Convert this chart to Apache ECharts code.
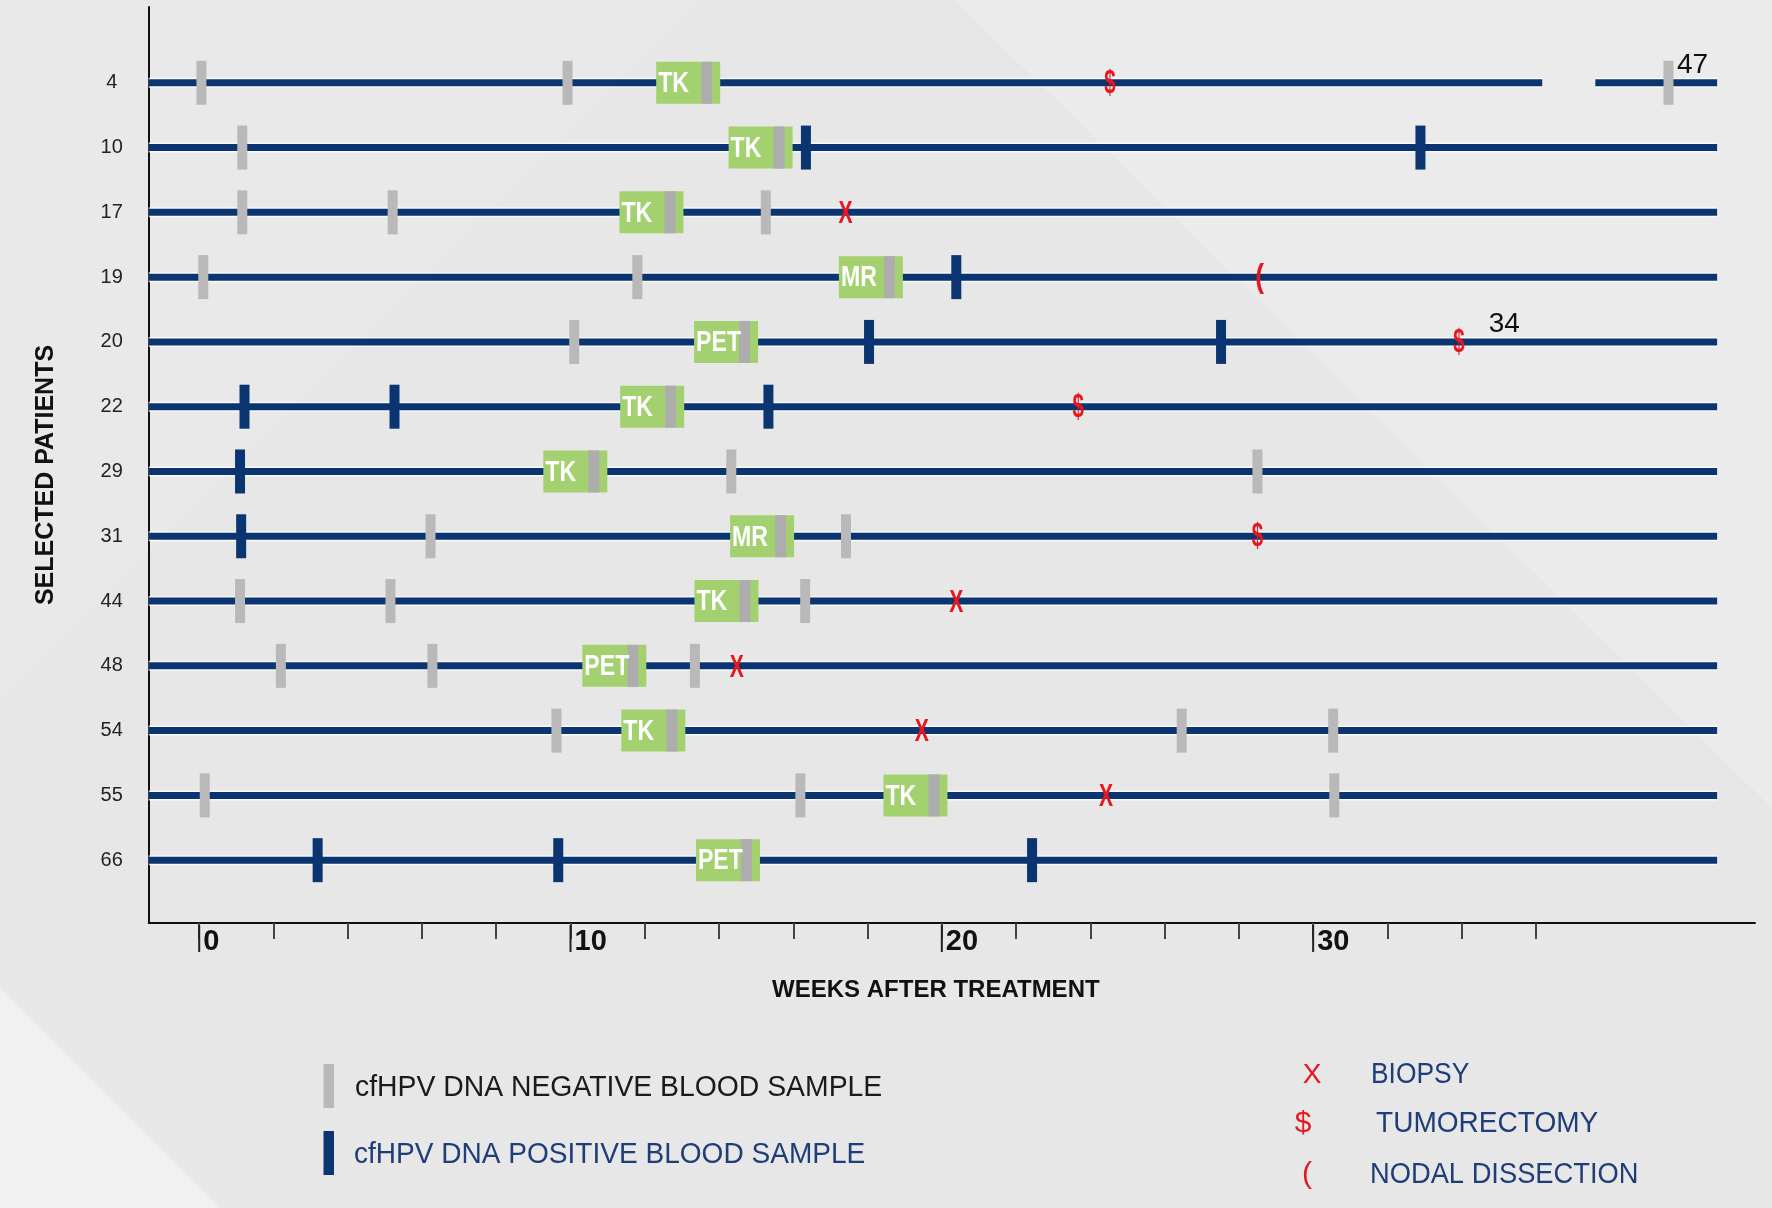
<!DOCTYPE html>
<html>
<head>
<meta charset="utf-8">
<script src="https://cdn.jsdelivr.net/npm/echarts@6/dist/echarts.min.js"></script>
<style>
html,body{margin:0;padding:0;background:#e7e7e7;}
#c{width:1772px;height:1208px;}
</style>
</head>
<body>
<div id="c"></div>
<script>
// ---------------- DATA ----------------
const patients = ['4','10','17','19','20','22','29','31','44','48','54','55','66'];
const weekTicks = [0,2,4,6,8,10,12,14,16,18,20,22,24,26,28,30,32,34,36];
const weekLabels = [0,10,20,30];
const followUpEnd = 40.88;
// [row, breakStart, breakEnd] : axis break on the follow-up line
const lineBreaks = [[0, 36.17, 37.6]];
// [week, row]
const negativeSamples = [
  [0.06,0],[9.92,0],[39.57,0],
  [1.16,1],
  [1.16,2],[5.21,2],[15.26,2],
  [0.11,3],[11.8,3],
  [10.1,4],
  [14.33,6],[28.5,6],
  [6.23,7],[17.42,7],
  [1.1,8],[5.15,8],[16.32,8],
  [2.2,9],[6.28,9],[13.35,9],
  [9.62,10],[26.46,10],[30.54,10],
  [0.15,11],[16.19,11],[30.57,11]
];
const positiveSamples = [
  [16.34,1],[32.89,1],
  [20.39,3],
  [18.04,4],[27.52,4],
  [1.22,5],[5.26,5],[15.33,5],
  [1.1,6],
  [1.13,7],
  [3.19,12],[9.67,12],[22.43,12]
];
// [week, row, modality]
const imaging = [
  [13.17,0,'TK'],[15.12,1,'TK'],[12.18,2,'TK'],[18.09,3,'MR'],[14.19,4,'PET'],
  [12.2,5,'TK'],[10.13,6,'TK'],[15.16,7,'MR'],[14.2,8,'TK'],[11.18,9,'PET'],
  [12.23,10,'TK'],[19.29,11,'TK'],[14.24,12,'PET']
];
const biopsy = [[17.41,2],[20.39,8],[14.48,9],[19.46,10],[24.42,11]];
const tumorectomy = [[24.53,0],[33.93,4],[23.67,5],[28.5,7]];
const nodalDissection = [[28.56,3]];
// [week, row, text]
const annotations = [[39.8,0,'47'],[34.73,4,'34']];

const legendSamples = ['cfHPV DNA NEGATIVE BLOOD SAMPLE','cfHPV DNA POSITIVE BLOOD SAMPLE'];
const legendEvents = [['X','BIOPSY'],['$','TUMORECTOMY'],['(','NODAL DISSECTION']];

// ---------------- STYLE ----------------
const NAVY = '#0b3571';
const GRAY = '#b9b9b9';
const RED = '#e8161d';
const GREEN = '#a3d170';
const SANS = '"Liberation Sans",Arial,sans-serif';
const X_MIN = -1.36, X_MAX = 41.9;
const Y_MIN = -1.17, Y_MAX = 12.97;

// build line segments [start, end, row]
const segments = [];
patients.forEach((p, row) => {
  let start = X_MIN;
  lineBreaks.filter(b => b[0] === row).forEach(b => {
    segments.push([start, b[1], row]);
    start = b[2];
  });
  segments.push([start, followUpEnd, row]);
});

const chart = echarts.init(document.getElementById('c'), null, {renderer:'canvas'});

function markRender(color) {
  return function (params, api) {
    const p = api.coord([api.value(0), api.value(1)]);
    return {type:'rect', shape:{x:p[0]-5, y:p[1]-22, width:10, height:44}, style:{fill:color}};
  };
}
function glyphRender(ch, size, weight, sx, dy) {
  return function (params, api) {
    const p = api.coord([api.value(0), api.value(1)]);
    return {type:'text', x:p[0], y:p[1]+dy, scaleX:sx, style:{text:ch, fill:RED, fontSize:size, fontWeight:weight,
      fontFamily:SANS, align:'center', verticalAlign:'middle'}};
  };
}
function legendText(x, y, text, color, sx) {
  return {type:'text', z:10, x:x, y:y, scaleX:sx, style:{text:text, fill:color, fontSize:30, fontFamily:SANS, verticalAlign:'middle'}};
}

const option = {
  backgroundColor: '#e7e7e7',
  animation: false,
  grid: {left:148.7, right:17, top:7, bottom:285, containLabel:false},
  xAxis: {
    type:'value', min:X_MIN, max:X_MAX,
    axisLine:{show:true, onZero:false, lineStyle:{color:'#111', width:2}},
    axisTick:{show:true, customValues:weekTicks, length:16, lineStyle:{color:'#444', width:2}},
    axisLabel:{show:true, customValues:weekLabels, margin:4, align:'left', padding:[0,0,0,4],
      fontSize:29, fontWeight:'bold', color:'#111', fontFamily:SANS},
    splitLine:{show:false},
    name:'WEEKS AFTER TREATMENT', nameLocation:'middle', nameGap:55,
    nameTextStyle:{fontSize:24, fontWeight:'bold', color:'#111', fontFamily:SANS, padding:[0,32,0,0]}
  },
  yAxis: {
    type:'value', inverse:true, min:Y_MIN, max:Y_MAX,
    axisLine:{show:true, onZero:false, lineStyle:{color:'#111', width:2}},
    axisTick:{show:false},
    splitLine:{show:false},
    axisLabel:{show:true, customValues:patients.map((p,i)=>i), formatter:v => patients[v],
      align:'center', margin:37, fontSize:20, color:'#222', fontFamily:SANS},
    name:'SELECTED PATIENTS', nameLocation:'middle', nameGap:90,
    nameTextStyle:{fontSize:25, fontWeight:'bold', color:'#111', fontFamily:SANS, padding:[0,20,0,0]}
  },
  graphic: [
    {type:'polygon', z:-10, silent:true, shape:{points:[[955,0],[1772,0],[1772,808]]}, style:{fill:'#ebebeb'}},
    {type:'polygon', z:-10, silent:true, shape:{points:[[0,0],[700,0],[0,700]]}, style:{fill:'#e9e9e9'}},
    {type:'polygon', z:-9, silent:true, shape:{points:[[0,988],[220,1208],[0,1208]]}, style:{fill:'#f1f1f1'}},
    {type:'rect', z:10, shape:{x:323.5, y:1064, width:10.5, height:44}, style:{fill:GRAY}},
    {type:'rect', z:10, shape:{x:323.5, y:1131, width:10.5, height:44}, style:{fill:NAVY}},
    legendText(355, 1088, legendSamples[0], '#1a1a1a', 0.945),
    legendText(354, 1155, legendSamples[1], '#1f3d78', 0.935),
    {type:'text', z:10, x:1312, y:1075, style:{text:legendEvents[0][0], fill:RED, fontSize:28, fontFamily:SANS, align:'center', verticalAlign:'middle'}},
    {type:'text', z:10, x:1303, y:1124, style:{text:legendEvents[1][0], fill:RED, fontSize:30, fontFamily:SANS, align:'center', verticalAlign:'middle'}},
    {type:'text', z:10, x:1307, y:1175, style:{text:legendEvents[2][0], fill:RED, fontSize:30, fontFamily:SANS, align:'center', verticalAlign:'middle'}},
    legendText(1371, 1075, legendEvents[0][1], '#1f3d78', 0.88),
    legendText(1376, 1124, legendEvents[1][1], '#1f3d78', 0.935),
    legendText(1370, 1175, legendEvents[2][1], '#1f3d78', 0.91)
  ],
  series: [
    {
      type:'custom', name:'follow-up', data:segments, encode:{x:[0,1], y:2}, z:2,
      renderItem:function(params, api){
        const a = api.coord([api.value(0), api.value(2)]);
        const b = api.coord([api.value(1), api.value(2)]);
        return {type:'group', children:[
          {type:'line', shape:{x1:a[0], y1:a[1], x2:b[0], y2:b[1]}, style:{stroke:'rgba(255,255,255,0.75)', lineWidth:10}},
          {type:'line', shape:{x1:a[0], y1:a[1], x2:b[0], y2:b[1]}, style:{stroke:NAVY, lineWidth:7}}
        ]};
      }
    },
    {
      type:'custom', name:'major ticks', data:weekLabels.map(w => [w, Y_MAX]), encode:{x:0, y:1}, z:2,
      renderItem:function(params, api){
        const p = api.coord([api.value(0), api.value(1)]);
        return {type:'line', shape:{x1:p[0], y1:p[1]+2, x2:p[0], y2:p[1]+29}, style:{stroke:'#222', lineWidth:2}};
      }
    },
    {type:'custom', name:'negative', data:negativeSamples, encode:{x:0,y:1}, z:3, renderItem:markRender(GRAY)},
    {type:'custom', name:'positive', data:positiveSamples, encode:{x:0,y:1}, z:3, renderItem:markRender(NAVY)},
    {
      type:'custom', name:'imaging', data:imaging, encode:{x:0,y:1}, z:4,
      renderItem:function(params, api){
        const p = api.coord([api.value(0), api.value(1)]);
        const left = p[0]-32, top = p[1]-21;
        return {type:'group', children:[
          {type:'rect', shape:{x:left, y:top, width:64, height:42}, style:{fill:GREEN}},
          {type:'rect', shape:{x:left+45, y:top, width:11, height:42}, style:{fill:'#adadad'}},
          {type:'text', x:left+2, y:p[1]+1, scaleX:0.77, style:{text:imaging[params.dataIndex][2], fill:'#ffffff',
            fontSize:30, fontWeight:'bold', fontFamily:SANS, align:'left', verticalAlign:'middle'}}
        ]};
      }
    },
    {type:'custom', name:'biopsy', data:biopsy, encode:{x:0,y:1}, z:5, renderItem:glyphRender('X', 32, 'bold', 0.66, 2)},
    {type:'custom', name:'tumorectomy', data:tumorectomy, encode:{x:0,y:1}, z:5, renderItem:glyphRender('$', 33, 'bold', 0.62, 1)},
    {type:'custom', name:'nodal', data:nodalDissection, encode:{x:0,y:1}, z:5, renderItem:glyphRender('(', 33, 'bold', 0.8, 1)},
    {
      type:'custom', name:'annotations', data:annotations, encode:{x:0,y:1}, z:5,
      renderItem:function(params, api){
        const p = api.coord([api.value(0), api.value(1)]);
        return {type:'text', x:p[0], y:p[1]-18, style:{text:annotations[params.dataIndex][2], fill:'#111',
          fontSize:28, fontFamily:SANS, align:'left', verticalAlign:'middle'}};
      }
    }
  ]
};
chart.setOption(option);
</script>
</body>
</html>
